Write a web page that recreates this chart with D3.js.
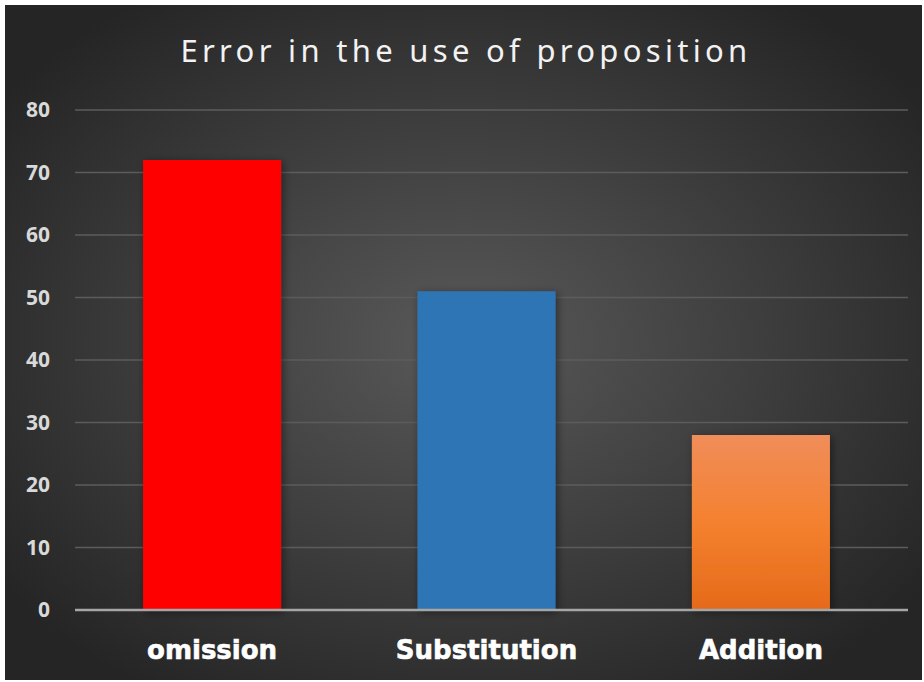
<!DOCTYPE html>
<html>
<head>
<meta charset="utf-8">
<script src="https://cdn.jsdelivr.net/npm/d3@7"></script>
<style>
  html, body { margin: 0; padding: 0; background: #fff; }
  svg { display: block; }
</style>
</head>
<body>
<svg id="chart" width="924" height="682"></svg>
<script>
const categories = ['omission', 'Substitution', 'Addition'];
const values = [72, 51, 28];
const yTicks = [0, 10, 20, 30, 40, 50, 60, 70, 80];
const chartTitle = 'Error in the use of proposition';

const W = 924, H = 682;
const margin = {left: 75, right: 16, top: 110, bottom: 72};

const svg = d3.select('#chart');
const defs = svg.append('defs');

// dark radial background
let bg = defs.append('radialGradient').attr('id', 'bg')
    .attr('cx', '50%').attr('cy', '50%').attr('r', '62%');
bg.append('stop').attr('offset', '0%').attr('stop-color', '#595959');
bg.append('stop').attr('offset', '100%').attr('stop-color', '#252525');

let orange = defs.append('linearGradient').attr('id', 'orange')
    .attr('x1', 0).attr('y1', 0).attr('x2', 0).attr('y2', 1);
orange.append('stop').attr('offset', '0%').attr('stop-color', '#f08d5a');
orange.append('stop').attr('offset', '50%').attr('stop-color', '#f4812f');
orange.append('stop').attr('offset', '100%').attr('stop-color', '#e56a19');

let shadow = defs.append('filter').attr('id', 'shadow')
    .attr('x', '-20%').attr('y', '-20%').attr('width', '140%').attr('height', '140%');
shadow.append('feDropShadow').attr('dx', 2).attr('dy', 2).attr('stdDeviation', 4)
    .attr('flood-color', '#000').attr('flood-opacity', 0.45);

svg.append('rect')
    .attr('x', 5).attr('y', 5)
    .attr('width', W - 7).attr('height', H - 7)
    .attr('fill', 'url(#bg)');

const x = d3.scaleBand()
    .domain(categories)
    .range([margin.left, 898])
    .paddingInner(0.497).paddingOuter(0.248);

const y = d3.scaleLinear()
    .domain([0, 80])
    .range([H - margin.bottom, margin.top]);

// gridlines
svg.append('g')
  .selectAll('line')
  .data(yTicks.filter(d => d > 0))
  .join('line')
    .attr('x1', margin.left).attr('x2', W - margin.right)
    .attr('y1', d => y(d)).attr('y2', d => y(d))
    .attr('stroke', '#5c5c5c')
    .attr('stroke-width', 1.5);

// y axis labels
const yAxis = svg.append('g')
    .attr('transform', `translate(${margin.left - 25},0)`)
    .call(d3.axisLeft(y).tickValues(yTicks).tickSize(0).tickPadding(0));
yAxis.select('.domain').remove();
yAxis.selectAll('text')
    .attr('fill', '#d9d9d9')
    .attr('font-family', 'Open Sans, sans-serif')
    .attr('font-weight', 'bold')
    .attr('font-size', 21);

const colors = ['#ff0000', '#2e74b5', 'url(#orange)'];

svg.append('g')
  .selectAll('rect')
  .data(values)
  .join('rect')
    .attr('x', (d, i) => x(categories[i]))
    .attr('y', d => y(d))
    .attr('width', x.bandwidth())
    .attr('height', d => y(0) - y(d))
    .attr('fill', (d, i) => colors[i])
    .attr('filter', 'url(#shadow)');

// baseline
svg.append('line')
    .attr('x1', margin.left).attr('x2', W - margin.right)
    .attr('y1', y(0)).attr('y2', y(0))
    .attr('stroke', '#a6a6a6')
    .attr('stroke-width', 2.5);

// category labels
const xAxis = svg.append('g')
    .attr('transform', `translate(0,${y(0)})`)
    .call(d3.axisBottom(x).tickSize(0).tickPadding(31));
xAxis.select('.domain').remove();
xAxis.selectAll('text')
    .attr('fill', '#ffffff')
    .attr('stroke', '#ffffff')
    .attr('stroke-width', 0.6)
    .attr('font-family', 'DejaVu Sans, sans-serif')
    .attr('font-weight', 'bold')
    .attr('font-size', 26);

svg.append('text')
    .attr('x', 466).attr('y', 62)
    .attr('text-anchor', 'middle')
    .attr('fill', '#f2f2f2')
    .attr('font-family', 'Noto Sans, sans-serif')
    .attr('font-weight', 400)
    .attr('font-size', 31)
    .attr('letter-spacing', 4.3)
    .text(chartTitle);
</script>
</body>
</html>
